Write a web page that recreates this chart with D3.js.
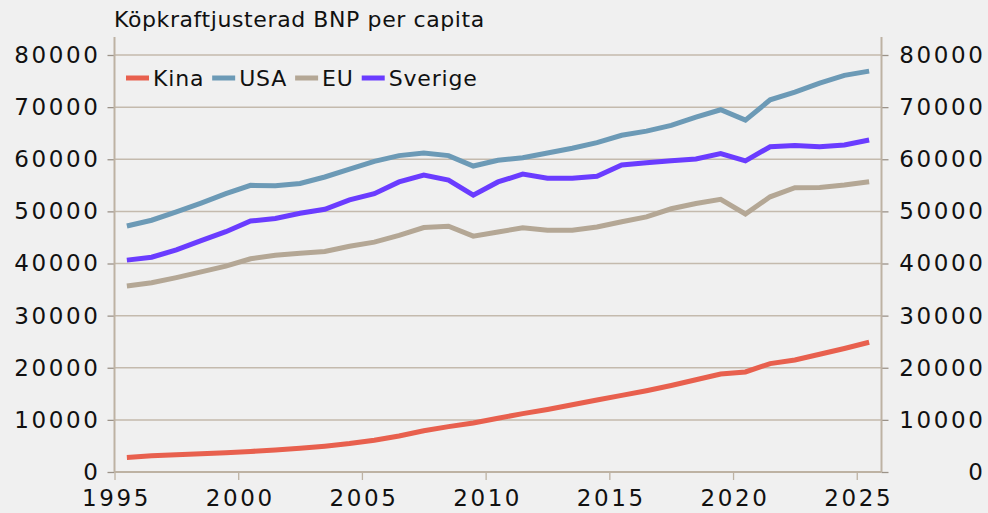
<!DOCTYPE html>
<html>
<head>
<meta charset="utf-8">
<script src="https://cdn.jsdelivr.net/npm/d3@7"></script>
<style>
    html, body { margin: 0; padding: 0; background: #f0f0f0; }
    svg { display: block; font-family: 'DejaVu Sans', sans-serif; }
</style>
</head>
<body>
<svg id="chart"></svg>
<script>
// data (values at mid-year)
var years = d3.range(1995, 2026);
var kina = [2800, 3100, 3300, 3500, 3700, 3950, 4200, 4550, 4950, 5450, 6100, 6900, 7900, 8700, 9400, 10300,
    11200, 12000, 12900, 13800, 14700, 15600, 16600, 17700, 18800, 19200, 20800, 21500, 22600, 23700, 24900];
var usa = [47200, 48300, 49900, 51600, 53400, 55000, 54900, 55350, 56600, 58100, 59600, 60700, 61200, 60700, 58700, 59800,
    60300, 61200, 62100, 63200, 64600, 65400, 66500, 68100, 69500, 67500, 71400, 72900, 74600, 76100, 76900];
var eu = [35700, 36300, 37300, 38400, 39500, 40900, 41600, 41950, 42300, 43300, 44100, 45400, 46900, 47150, 45250, 46050,
    46850, 46400, 46400, 47000, 48000, 48950, 50500, 51500, 52300, 49500, 52800, 54550, 54600, 55050, 55700];
var sverige = [40650, 41200, 42600, 44400, 46100, 48150, 48650, 49650, 50400, 52200, 53400, 55650, 56950, 56000, 53100, 55650,
    57150, 56350, 56350, 56750, 58900, 59350, 59700, 60050, 61100, 59700, 62400, 62650, 62400, 62750, 63700];

var series_names = ['Kina', 'USA', 'EU', 'Sverige'];
var series_values = [kina, usa, eu, sverige];
var series_colors = ['#e8604e', '#6c9ab6', '#b4a795', '#6a3cff'];

var y_ticks = [0, 10000, 20000, 30000, 40000, 50000, 60000, 70000, 80000];
var x_ticks = [1995, 2000, 2005, 2010, 2015, 2020, 2025];
var title = 'Köpkraftjusterad BNP per capita';

/**************************************************************************************/

function Chart(){}

Chart.prototype.setup = function(svg_id){
    this.width = 988;
    this.height = 513;
    this.svg = d3.select('#'+svg_id).attr('width', this.width).attr('height', this.height);

    this.left = 114.5;
    this.right = 881.5;
    this.bottom = 472;
    this.top_axis = 37;

    this.x = d3.scaleLinear().domain([1995, 2026]).range([this.left, this.right]);
    this.y = d3.scaleLinear().domain([0, 80000]).range([this.bottom, 55]);

    this.grid_color = '#c4baad';
    this.axis_color = '#bdb2a3';
}

/**************************************************************************************/

Chart.prototype.draw_grid = function(){
    var self = this;
    this.svg.append('g').selectAll('line').data(y_ticks.slice(1)).enter().append('line')
        .attr('x1', this.left).attr('x2', this.right)
        .attr('y1', function(d){ return self.y(d); })
        .attr('y2', function(d){ return self.y(d); })
        .style('stroke', this.grid_color).style('stroke-width', 1.5);
}

/**************************************************************************************/

Chart.prototype.draw_axes = function(){
    var fmt = function(d){ return String(d); };

    var left_axis = d3.axisLeft(this.y).tickValues(y_ticks).tickFormat(fmt).tickSize(7).tickPadding(9);
    var right_axis = d3.axisRight(this.y).tickValues(y_ticks).tickFormat(fmt).tickSize(7).tickPadding(9);
    var bottom_axis = d3.axisBottom(this.x).tickValues(x_ticks).tickFormat(fmt).tickSize(8).tickPadding(9);

    var gl = this.svg.append('g').attr('transform', 'translate(' +this.left+ ',0)').call(left_axis);
    var gr = this.svg.append('g').attr('transform', 'translate(' +this.right+ ',0)').call(right_axis);
    var gb = this.svg.append('g').attr('transform', 'translate(0,' +this.bottom+ ')').call(bottom_axis);

    [gl, gr, gb].forEach(function(g){
        g.select('.domain').remove();
        g.selectAll('.tick line').style('stroke', '#9b9288').style('stroke-width', 1.3);
        g.selectAll('.tick text').style('font-size', '23px').style('fill', '#111')
            .style('letter-spacing', '2.6px').style('font-family', "'DejaVu Sans', sans-serif");
    });
    gb.selectAll('.tick line').style('stroke', this.axis_color);
    gb.selectAll('.tick text').attr('dy', '0.76em').attr('x', 1.5);
    gl.selectAll('.tick text').attr('x', -14);
    // right-hand labels are right aligned at the picture edge
    gr.selectAll('.tick text').attr('text-anchor', 'end').attr('x', 104);

    // frame lines
    this.svg.append('line').attr('x1', this.left).attr('x2', this.left).attr('y1', this.top_axis).attr('y2', this.bottom)
        .style('stroke', this.axis_color).style('stroke-width', 2);
    this.svg.append('line').attr('x1', this.right).attr('x2', this.right).attr('y1', this.top_axis).attr('y2', this.bottom)
        .style('stroke', this.axis_color).style('stroke-width', 2);
    this.svg.append('line').attr('x1', this.left).attr('x2', this.right).attr('y1', this.bottom).attr('y2', this.bottom)
        .style('stroke', this.axis_color).style('stroke-width', 2);
}

/**************************************************************************************/

Chart.prototype.draw_lines = function(){
    var self = this;
    var line = d3.line()
        .x(function(d, i){ return self.x(years[i] + 0.5); })
        .y(function(d){ return self.y(d); });

    for(var i=0; i<series_values.length; i++){
        this.svg.append('path').attr('d', line(series_values[i]))
            .style('fill', 'none').style('stroke', series_colors[i])
            .style('stroke-width', 5).style('stroke-linejoin', 'miter');
    }
}

/**************************************************************************************/

Chart.prototype.draw_legend = function(){
    var g = this.svg.append('g').attr('transform', 'translate(126,78)');
    var pos = 0;
    for(var i=0; i<series_names.length; i++){
        g.append('line').attr('x1', pos).attr('x2', pos+23).attr('y1', 0).attr('y2', 0)
            .style('stroke', series_colors[i]).style('stroke-width', 5);
        var t = g.append('text').attr('x', pos+27).attr('y', 8).text(series_names[i])
            .style('font-size', '22px').style('fill', '#111').style('letter-spacing', '0.8px');
        pos += 27 + t.node().getComputedTextLength() + 8;
    }
}

/**************************************************************************************/

Chart.prototype.draw_title = function(){
    this.svg.append('text').attr('x', 114).attr('y', 27).text(title)
        .style('font-size', '22px').style('fill', '#111').style('letter-spacing', '0.6px');
}

var chart = new Chart();
chart.setup('chart');
chart.draw_grid();
chart.draw_axes();
chart.draw_lines();
chart.draw_legend();
chart.draw_title();
</script>
</body>
</html>
